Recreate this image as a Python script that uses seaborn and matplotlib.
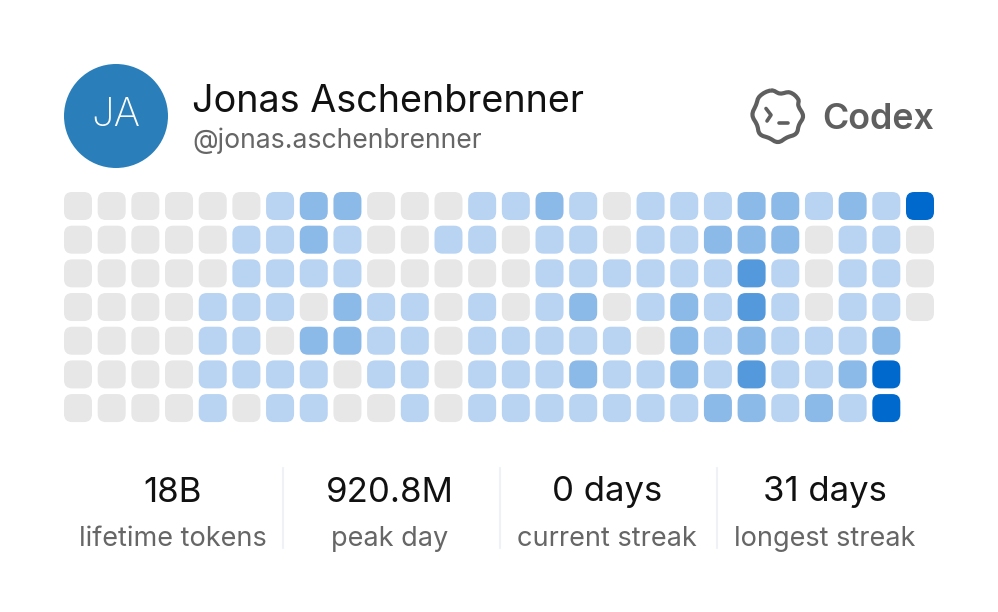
import numpy as np
import pandas as pd
import matplotlib
matplotlib.use("Agg")
import matplotlib.pyplot as plt
from matplotlib.path import Path
from matplotlib.patches import Circle, PathPatch
import seaborn as sns

# token activity level per weekday row, one value per week column
row_0 = [0, 0, 0, 0, 0, 0, 1, 2, 2, 0, 0, 0, 1, 1, 2, 1, 0, 1, 1, 1, 2, 2, 1, 2, 1, 4]
row_1 = [0, 0, 0, 0, 0, 1, 1, 2, 1, 0, 0, 1, 1, 0, 1, 1, 0, 1, 1, 2, 2, 2, 0, 1, 1, 0]
row_2 = [0, 0, 0, 0, 0, 1, 1, 1, 1, 0, 0, 0, 0, 0, 1, 1, 1, 1, 1, 1, 3, 1, 0, 1, 1, 0]
row_3 = [0, 0, 0, 0, 1, 1, 1, 0, 2, 1, 1, 0, 1, 0, 1, 2, 0, 1, 2, 1, 3, 1, 0, 1, 1, 0]
row_4 = [0, 0, 0, 0, 1, 1, 0, 2, 2, 1, 1, 0, 1, 1, 1, 1, 1, 0, 2, 1, 2, 1, 1, 1, 2]
row_5 = [0, 0, 0, 0, 1, 1, 1, 1, 0, 1, 1, 0, 1, 1, 1, 2, 1, 1, 2, 1, 3, 1, 1, 2, 4]
row_6 = [0, 0, 0, 0, 1, 0, 1, 1, 0, 0, 1, 0, 1, 1, 1, 1, 1, 1, 1, 2, 2, 1, 2, 1, 4]
rows = [row_0, row_1, row_2, row_3, row_4, row_5, row_6]

stat_values = ["18B", "920.8M", "0 days", "31 days"]
stat_labels = ["lifetime tokens", "peak day", "current streak", "longest streak"]

level_colors = {0: "#e7e7e7", 1: "#b8d4f2", 2: "#8bb9e8", 3: "#5499dc", 4: "#0069cd"}

cells = pd.DataFrame(
    [(c, r, v) for r, row in enumerate(rows) for c, v in enumerate(row)],
    columns=["week", "day", "level"],
)

sns.set_theme(style="white")
plt.rcParams["font.family"] = ["Inter", "DejaVu Sans"]

W, H = 998, 612
fig = plt.figure(figsize=(W / 100, H / 100), dpi=100, facecolor="white")

# rounded square marker for the cells
a, b = 1.0, 0.42
rounded = Path(
    [(-b, -a), (b, -a), (a, -a), (a, -b), (a, b), (a, a), (b, a),
     (-b, a), (-a, a), (-a, b), (-a, -b), (-a, -a), (-b, -a), (-b, -a)],
    [Path.MOVETO, Path.LINETO, Path.CURVE3, Path.CURVE3, Path.LINETO, Path.CURVE3, Path.CURVE3,
     Path.LINETO, Path.CURVE3, Path.CURVE3, Path.LINETO, Path.CURVE3, Path.CURVE3, Path.CLOSEPOLY],
)

pitch = 33.68
grid_ax = fig.add_axes([(78 - pitch / 2) / W, 1 - (206 - pitch / 2 + 7 * pitch) / H, 26 * pitch / W, 7 * pitch / H])
sns.scatterplot(
    data=cells, x="week", y="day", hue="level", palette=level_colors,
    marker=rounded, s=(28 * 0.72) ** 2, linewidth=0, legend=False, ax=grid_ax,
)
grid_ax.set_xlim(-0.5, 25.5)
grid_ax.set_ylim(6.5, -0.5)
grid_ax.axis("off")

# overlay in pixel coordinates for the header and the stats
ax = fig.add_axes([0, 0, 1, 1], facecolor="none")
ax.set_xlim(0, W)
ax.set_ylim(H, 0)
ax.axis("off")

ax.add_patch(Circle((116, 116), 52, color="#2a7fba", lw=0))
ax.text(116, 116, "JA", color="white", fontsize=29, ha="center", va="center", fontweight="light")
ax.text(192, 101.5, "Jonas Aschenbrenner", color="#111111", fontsize=27.2, ha="left", va="center")
ax.text(192, 141, "@jonas.aschenbrenner", color="#666666", fontsize=19.1, ha="left", va="center")

# Codex logo, closed smooth outline through the scallops
outline = np.array([
    (771, 90.5), (780, 93.5), (790, 92.5), (798, 99), (798.5, 106), (803, 116), (799, 125), (796, 133.5),
    (787, 137.5), (778, 142), (769, 138), (760, 134), (757, 125), (752.5, 115), (756, 105), (760, 96),
])
n = len(outline)
verts = [outline[0]]
codes = [Path.MOVETO]
for i in range(n):
    p0, p1, p2, p3 = outline[i - 1], outline[i], outline[(i + 1) % n], outline[(i + 2) % n]
    verts += [p1 + (p2 - p0) / 5, p2 - (p3 - p1) / 5, p2]
    codes += [Path.CURVE4, Path.CURVE4, Path.CURVE4]
ax.add_patch(PathPatch(Path(verts, codes), fill=False, ec="#5f5f5f", lw=3.0))
ax.plot([766, 771, 767], [108.5, 115, 121], color="#5f5f5f", lw=2.6, solid_capstyle="round")
ax.plot([779, 788.5], [122.5, 122.5], color="#5f5f5f", lw=2.6, solid_capstyle="round")
ax.text(822, 119.5, "Codex", color="#5f5f5f", fontsize=25.8, fontweight="semibold", ha="left", va="center")

stat_centers = [173, 390, 607, 825]
for x, value, label in zip(stat_centers, stat_values, stat_labels):
    ax.text(x, 492.5, value, color="#111111", fontsize=25, ha="center", va="center")
    ax.text(x, 539, label, color="#666666", fontsize=19.5, ha="center", va="center")
for x in [283, 500, 717]:
    ax.plot([x, x], [468, 548], color="#eef1f5", lw=1.5)

fig.savefig("out.png", dpi=100, facecolor="white")
